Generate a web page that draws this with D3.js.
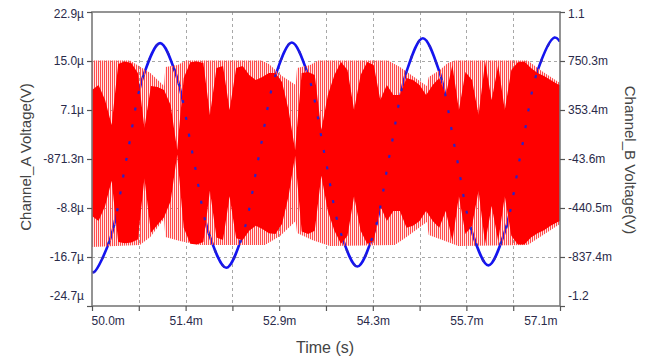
<!DOCTYPE html>
<html><head><meta charset="utf-8">
<script src="https://cdn.jsdelivr.net/npm/d3@7"></script>
<style>
body{margin:0;background:#fff;}
svg{display:block;font-family:"Liberation Sans",Arial,sans-serif;}
</style>
</head><body>
<svg id="chart" width="652" height="356"></svg>
<script>
// ---------- data (time in ms, Channel A in µV, Channel B in mV) ----------
const timeDomain = [50.0, 57.143];
const chADomain = [-24.676, 22.934];
const chBDomain = [-1234.4, 1147.2];

const xTickValues = [50.0, 50.714, 51.429, 52.143, 52.857, 53.571, 54.286, 55.0, 55.714, 56.429, 57.143];
const xTickLabels = ["50.0m", "", "51.4m", "", "52.9m", "", "54.3m", "", "55.7m", "", "57.1m"];
const yLeftTickValues = [-24.676, -16.741, -8.806, -0.871, 7.064, 14.999, 22.934];
const yLeftTickLabels = ["-24.7µ", "-16.7µ", "-8.8µ", "-871.3n", "7.1µ", "15.0µ", "22.9µ"];
const yRightTickValues = [-1234.4, -837.4, -440.5, -43.6, 353.4, 750.3, 1147.2];
const yRightTickLabels = ["-1.2", "-837.4m", "-440.5m", "-43.6m", "353.4m", "750.3m", "1.1"];

// Channel B (blue sine)
const blueTime = [50.00, 50.03, 50.28, 50.53, 50.78, 51.04, 51.29, 51.54, 51.79, 52.05, 52.30, 52.55, 52.80, 53.05, 53.30, 53.55, 53.80, 54.05, 54.30, 54.55, 54.80, 55.05, 55.30, 55.55, 55.80, 56.05, 56.30, 56.55, 56.80, 57.06, 57.143];
const blueVolt = [-957, -960, -688, -32, 624, 895, 628, -15, -658, -925, -657, -12, 633, 900, 634, -7, -648, -915, -644, 10, 664, 935, 666, 15, -636, -905, -634, 18, 670, 940, 909];

// Channel A (red) – dense band: solid core envelope
const redTime = [50.0, 50.1, 50.2, 50.3, 50.4, 50.5, 50.6, 50.7, 50.8, 50.9,
  51.0, 51.1, 51.2, 51.3, 51.4, 51.5, 51.6, 51.7, 51.8, 51.9,
  52.0, 52.1, 52.2, 52.3, 52.4, 52.5, 52.6, 52.7, 52.8, 52.9,
  53.0, 53.1, 53.2, 53.3, 53.4, 53.5, 53.6, 53.7, 53.8, 53.9,
  54.0, 54.1, 54.2, 54.3, 54.4, 54.5, 54.6, 54.7, 54.8, 54.9,
  55.0, 55.1, 55.2, 55.3, 55.4, 55.5, 55.6, 55.7, 55.8, 55.9,
  56.0, 56.1, 56.2, 56.3, 56.4, 56.5, 56.6, 56.7, 56.8, 56.9,
  57.0, 57.1, 57.143];
const redCoreTop = [10.30, 11.11, 8.68, 4.63, 14.51, 14.9, 14.68, 13.06, 4.15, 10.95,
  10.79, 10.30, 7.87, 0.6, 12.25, 14.8, 14.9, 14.68, 6.25, 13.87,
  14.19, 7.06, 13.87, 14.19, 12.73, 11.92, 12.41, 13.06, 13.06, 11.60,
  7.06, 0.59, 13.06, 13.22, 12.73, 3.82, 9.49, 12.73, 14.84, 13.54,
  7.06, 12.73, 14.84, 14.35, 8.68, 11.11, 9.49, 9.49, 12.25, 11.92,
  11.11, 9.49, 11.11, 12.25, 9.49, 14.35, 7.06, 13.22, 11.92, 6.25,
  14.84, 8.68, 14.35, 7.06, 13.54, 14.8, 14.9, 13.87, 13.06, 12.57,
  11.92, 11.27, 11.11];
const redCoreBottom = [-10.1, -10.9, -8.5, -4.4, -14.3, -14.5, -14.4, -13.9, -4.0, -12.8,
  -11.5, -10.3, -7.7, -0.2, -12.0, -14.6, -14.7, -14.3, -6.0, -13.6,
  -14.0, -6.9, -13.7, -14.0, -12.5, -11.7, -12.2, -12.9, -13.0, -11.4,
  -6.9, -0.4, -12.6, -13.0, -12.5, -3.6, -9.3, -12.5, -14.6, -13.3,
  -6.9, -12.5, -14.6, -14.2, -8.5, -10.9, -9.3, -9.3, -12.0, -11.7,
  -10.9, -9.3, -10.9, -12.0, -9.3, -14.2, -6.9, -13.0, -11.7, -6.0,
  -14.6, -8.5, -14.2, -6.9, -13.3, -14.7, -14.7, -13.6, -12.9, -12.4,
  -11.7, -11.1, -10.9];

// Channel A outer (sparse, striped) envelope
const redOuterTopTime = [50.00, 50.58, 50.69, 50.89, 51.10, 51.12, 51.31, 51.43, 52.59, 52.70, 52.90, 53.11, 53.13, 53.33, 53.45, 54.52, 54.70, 55.11, 55.14, 55.31, 55.43, 55.54, 56.65, 56.84, 57.143];
const redOuterTop = [15.1, 15.1, 14.35, 13.06, 10.95, 14.03, 14.35, 15.1, 15.1, 14.51, 12.57, 11.11, 13.87, 14.35, 15.1, 15.1, 14.03, 10.95, 12.41, 13.54, 14.68, 15.1, 15.1, 13.54, 11.44];
const redOuterBottomTime = [50.00, 50.73, 50.89, 51.10, 51.12, 51.34, 51.65, 52.64, 52.87, 53.11, 53.13, 53.36, 53.63, 54.62, 54.78, 55.11, 55.14, 55.39, 55.59, 56.65, 57.143];
const redOuterBottom = [-15.12, -14.8, -13.5, -10.59, -13.5, -14.15, -14.8, -14.8, -13.34, -10.91, -12.85, -13.99, -14.96, -14.8, -13.66, -11.07, -13.18, -14.15, -14.96, -14.8, -11.39];

// ---------- layout ----------
const svg = d3.select("#chart");
const M = {left: 92, right: 560, top: 12, bottom: 306};

const x = d3.scaleLinear().domain(timeDomain).range([M.left, M.right]);
const yA = d3.scaleLinear().domain(chADomain).range([M.bottom, M.top]);
const yB = d3.scaleLinear().domain(chBDomain).range([M.bottom, M.top]);

const defs = svg.append("defs");
defs.append("clipPath").attr("id", "plotClip").append("rect")
  .attr("x", M.left).attr("y", M.top).attr("width", M.right - M.left).attr("height", M.bottom - M.top);
const pat = defs.append("pattern").attr("id", "stripes").attr("patternUnits", "userSpaceOnUse")
  .attr("width", 2).attr("height", 8);
pat.append("rect").attr("x", 0).attr("y", 0).attr("width", 1).attr("height", 8).attr("fill", "#ff4d4d");
pat.append("rect").attr("x", 1).attr("y", 0).attr("width", 1).attr("height", 8).attr("fill", "rgba(255,60,60,0.12)");

// gridlines
const grid = svg.append("g").attr("stroke", "#a8a8a8").attr("stroke-width", 1).attr("stroke-dasharray", "3,3");
grid.selectAll("line.v").data(xTickValues.slice(1, -1)).join("line")
  .attr("x1", d => Math.round(x(d)) + 0.5).attr("x2", d => Math.round(x(d)) + 0.5)
  .attr("y1", M.top).attr("y2", M.bottom);
grid.selectAll("line.h").data(yLeftTickValues.slice(1, -1)).join("line")
  .attr("y1", d => Math.round(yA(d)) + 0.5).attr("y2", d => Math.round(yA(d)) + 0.5)
  .attr("x1", M.left).attr("x2", M.right);

const plot = svg.append("g").attr("clip-path", "url(#plotClip)");

// blue line (underneath the red band)
const blueData = blueTime.map((t, i) => [t, blueVolt[i]]);
const blueLine = d3.line().x(d => x(d[0])).y(d => yB(d[1])).curve(d3.curveCatmullRom.alpha(0.5));
plot.append("path").attr("d", blueLine(blueData))
  .attr("fill", "none").attr("stroke", "#1414f0").attr("stroke-width", 2.6);

// outer striped band
const outerPts = redOuterTopTime.map((t, i) => [x(t), yA(redOuterTop[i])])
  .concat(redOuterBottomTime.map((t, i) => [x(t), yA(redOuterBottom[i])]).reverse());
plot.append("path").attr("d", d3.line()(outerPts) + "Z").attr("fill", "url(#stripes)");

// solid core band
const coreData = redTime.map((t, i) => [t, redCoreTop[i], redCoreBottom[i]]);
const coreArea = d3.area().x(d => x(d[0])).y0(d => yA(d[2])).y1(d => yA(d[1]));
plot.append("path").attr("d", coreArea(coreData)).attr("fill", "#ff0000");

// blue samples peeking through the red
plot.append("path").attr("d", blueLine(blueData))
  .attr("fill", "none").attr("stroke", "#2a22c8").attr("stroke-width", 2.2)
  .attr("stroke-dasharray", "3,14");

// frame
svg.append("rect").attr("x", M.left).attr("y", M.top)
  .attr("width", M.right - M.left).attr("height", M.bottom - M.top)
  .attr("fill", "none").attr("stroke", "#7a7a7a").attr("stroke-width", 1.6);

const tickColor = "#2a2a4a";
function styleAxis(g) {
  g.select(".domain").remove();
  g.selectAll(".tick line").attr("stroke", "#555").attr("stroke-width", 1.2);
  g.selectAll(".tick text").attr("fill", tickColor).attr("font-size", 12)
    .attr("font-family", "'Liberation Sans', Arial, sans-serif");
}

// left axis
const gL = svg.append("g").attr("transform", `translate(${M.left},0)`)
  .call(d3.axisLeft(yA).tickValues(yLeftTickValues).tickFormat((d, i) => yLeftTickLabels[i]).tickSize(5).tickPadding(3));
styleAxis(gL);
gL.selectAll(".tick text").filter((d, i) => i === 0).attr("dy", "-0.55em");
gL.selectAll(".tick text").filter((d, i) => i === yLeftTickValues.length - 1).attr("dy", "0.45em");

// right axis
const gR = svg.append("g").attr("transform", `translate(${M.right},0)`)
  .call(d3.axisRight(yB).tickValues(yRightTickValues).tickFormat((d, i) => yRightTickLabels[i]).tickSize(5).tickPadding(3));
styleAxis(gR);
gR.selectAll(".tick text").filter((d, i) => i === 0).attr("dy", "-0.55em");
gR.selectAll(".tick text").filter((d, i) => i === yRightTickValues.length - 1).attr("dy", "0.45em");

// bottom axis
const gB = svg.append("g").attr("transform", `translate(0,${M.bottom})`)
  .call(d3.axisBottom(x).tickValues(xTickValues).tickFormat((d, i) => xTickLabels[i]).tickSize(5).tickPadding(5));
styleAxis(gB);
gB.selectAll(".tick text").filter((d, i) => i === 0).attr("text-anchor", "start").attr("dx", "-1");
gB.selectAll(".tick text").filter((d, i) => i === xTickValues.length - 1).attr("text-anchor", "end").attr("dx", "-3");

// titles
const titleColor = "#444";
svg.append("text").attr("transform", "translate(25,157) rotate(-90)")
  .attr("text-anchor", "middle").attr("dominant-baseline", "central")
  .attr("font-size", 15).attr("fill", titleColor).text("Channel_A Voltage(V)");
svg.append("text").attr("transform", "translate(630,160) rotate(90)")
  .attr("text-anchor", "middle").attr("dominant-baseline", "central")
  .attr("font-size", 15).attr("fill", titleColor).text("Channel_B Voltage(V)");
svg.append("text").attr("x", 325).attr("y", 347)
  .attr("text-anchor", "middle").attr("dominant-baseline", "central")
  .attr("font-size", 16).attr("fill", titleColor).text("Time (s)");
</script>
</body></html>
